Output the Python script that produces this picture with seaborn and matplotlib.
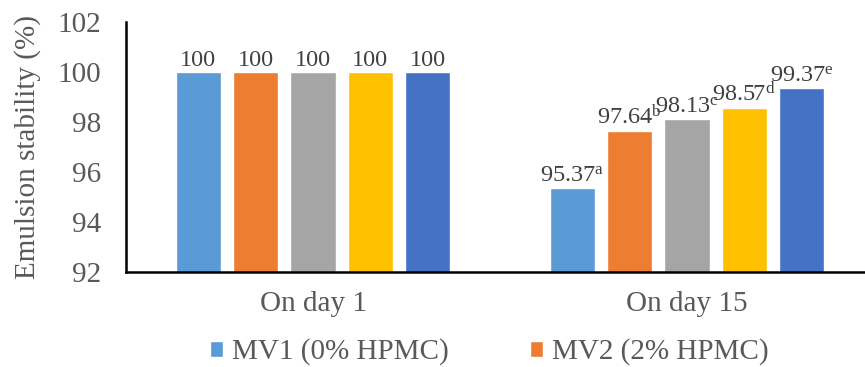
import matplotlib as mpl
import matplotlib.pyplot as plt
from matplotlib.patches import Patch
import seaborn as sns
import pandas as pd

days = ['On day 1', 'On day 15']
samples = ['MV1 (0% HPMC)', 'MV2 (2% HPMC)', 'MV3 (4% HPMC)', 'MV4 (6% HPMC)', 'MV5 (8% HPMC)']
day1 = [100, 100, 100, 100, 100]
day15 = [95.37, 97.64, 98.13, 98.57, 99.37]
letters = ['a', 'b', 'c', 'd', 'e']
colors = ['#5B9BD5', '#ED7D31', '#A5A5A5', '#FFC000', '#4472C4']

sns.set_style('white')
mpl.rcParams['font.family'] = ['Liberation Serif', 'DejaVu Serif']
mpl.rcParams['mathtext.fontset'] = 'custom'
mpl.rcParams['mathtext.rm'] = 'Liberation Serif'
mpl.rcParams['mathtext.it'] = 'Liberation Serif:italic'

rows = []
for s, v1, v15 in zip(samples, day1, day15):
    rows.append({'Day': days[0], 'Sample': s, 'Stability': v1})
    rows.append({'Day': days[1], 'Sample': s, 'Stability': v15})
df = pd.DataFrame(rows)

fig = plt.figure(figsize=(8.65, 3.67), dpi=100)
ax = fig.add_axes([126 / 865, 95 / 367, 748 / 865, 250 / 367])

sns.barplot(data=df, x='Day', y='Stability', hue='Sample', order=days,
            hue_order=samples, palette=colors, width=0.766, gap=0.21,
            legend=False, ax=ax, saturation=1, err_kws={'linewidth': 0})

for i, cont in enumerate(ax.containers):
    labels = [f'{day1[i]:g}', f'{day15[i]:.2f}$^{{\\mathrm{{{letters[i]}}}}}$']
    ax.bar_label(cont, labels=labels, padding=1, fontsize=17.5, color='#404040')

ax.set_ylim(92, 102)
ax.set_yticks(range(92, 103, 2))
ax.set_xlim(-0.5, 1.5)
ax.set_xlabel('')
ax.set_ylabel('Emulsion stability (%)', fontsize=21, color='#595959', labelpad=12)
ax.tick_params(axis='y', length=0, pad=18, labelsize=21, labelcolor='#595959')
ax.tick_params(axis='x', length=0, pad=14, labelsize=21, labelcolor='#595959')

sns.despine(ax=ax)
for side in ['left', 'bottom']:
    ax.spines[side].set_color('black')
    ax.spines[side].set_linewidth(1.8)

handles = [Patch(facecolor=colors[i], label=samples[i]) for i in range(2)]
fig.legend(handles=handles, loc='center left', bbox_to_anchor=(210 / 865, 1 - 352 / 367),
           ncol=2, frameon=False, fontsize=21, labelcolor='#595959',
           handlelength=0.45, handleheight=0.45, handletextpad=0.3,
           columnspacing=2.8, borderaxespad=0, borderpad=0)

fig.savefig('out.png', dpi=100)
